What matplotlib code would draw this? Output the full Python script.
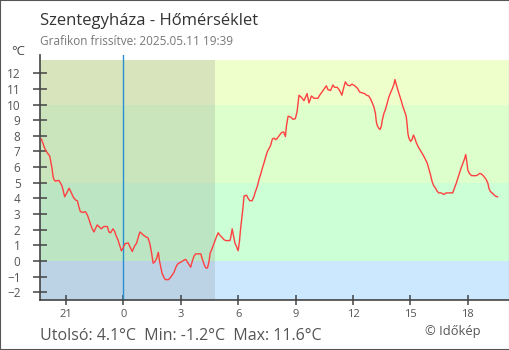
import matplotlib.pyplot as plt
from matplotlib.patches import Rectangle

plt.rcParams['font.family'] = ['Open Sans', 'DejaVu Sans']

# hours relative to midnight (negative = previous evening), temperature in °C
hours = [
    -4.28, -4.19, -4.07, -3.96, -3.84, -3.79, -3.72, -3.67, -3.62, -3.55,
    -3.37, -3.29, -3.20, -3.13, -3.06, -2.95, -2.83, -2.71, -2.62, -2.50,
    -2.40, -2.33, -2.24, -2.10, -1.98, -1.88, -1.79, -1.70, -1.62, -1.53,
    -1.46, -1.36, -1.27, -1.15, -1.02, -0.83, -0.75, -0.66, -0.54, -0.45,
    -0.37, -0.28, -0.19, -0.10, -0.02, 0.09, 0.26, 0.35, 0.47, 0.57,
    0.70, 0.78, 0.87, 0.96, 1.10, 1.25, 1.30, 1.39, 1.48, 1.56,
    1.65, 1.74, 1.83, 1.90, 1.97, 2.03, 2.14, 2.21, 2.35, 2.44,
    2.56, 2.66, 2.75, 2.84, 2.96, 3.05, 3.17, 3.26, 3.34, 3.44,
    3.52, 3.60, 3.69, 3.78, 4.00, 4.05, 4.12, 4.23, 4.31, 4.40,
    4.47, 4.54, 4.61, 4.69, 4.78, 4.87, 4.96, 5.04, 5.16, 5.27,
    5.36, 5.57, 5.62, 5.69, 5.76, 5.83, 5.92, 6.00, 6.07, 6.12,
    6.18, 6.24, 6.31, 6.44, 6.52, 6.61, 6.73, 6.82, 6.91, 7.01,
    7.09, 7.18, 7.27, 7.36, 7.44, 7.53, 7.62, 7.70, 7.79, 7.88,
    7.97, 8.05, 8.17, 8.26, 8.38, 8.47, 8.52, 8.61, 8.75, 8.87,
    8.99, 9.08, 9.13, 9.18, 9.31, 9.44, 9.60, 9.70, 9.83, 9.96,
    10.17, 10.26, 10.38, 10.52, 10.61, 10.69, 10.83, 10.95, 11.04, 11.18,
    11.30, 11.42, 11.51, 11.60, 11.71, 11.83, 11.95, 12.09, 12.23, 12.35,
    12.47, 12.61, 12.70, 12.82, 12.92, 13.01, 13.09, 13.17, 13.22, 13.27,
    13.34, 13.41, 13.48, 13.53, 13.62, 13.70, 13.79, 13.88, 13.96, 14.05,
    14.14, 14.19, 14.26, 14.35, 14.43, 14.52, 14.61, 14.70, 14.78, 14.83,
    14.87, 14.92, 15.01, 15.08, 15.16, 15.23, 15.31, 15.43, 15.53, 15.65,
    15.78, 15.88, 15.95, 16.05, 16.14, 16.22, 16.31, 16.40, 16.48, 16.61,
    16.74, 16.87, 17.21, 17.30, 17.39, 17.48, 17.56, 17.65, 17.73, 17.82,
    17.89, 17.94, 18.00, 18.08, 18.20, 18.43, 18.52, 18.62, 18.72, 18.84,
    18.96, 19.05, 19.10, 19.17, 19.31, 19.43, 19.55,
]
temps = [
    7.8, 7.5, 7.1, 6.9, 6.7, 6.35, 5.9, 5.4, 5.2, 5.1,
    5.15, 5.0, 4.8, 4.45, 4.1, 4.35, 4.65, 4.35, 4.1, 3.9,
    3.85, 3.5, 3.15, 3.1, 3.15, 2.95, 2.65, 2.3, 2.05, 1.85,
    2.05, 2.3, 2.2, 2.05, 2.2, 2.2, 1.85, 1.8, 2.05, 1.9,
    1.6, 1.35, 1.0, 0.65, 0.8, 1.1, 1.15, 0.9, 0.6, 0.9,
    1.15, 1.5, 1.85, 1.75, 1.6, 1.5, 1.45, 1.1, 0.5, -0.15,
    -0.05, 0.15, 0.55, -0.05, -0.45, -0.8, -1.1, -1.2, -1.2, -1.1,
    -0.9, -0.7, -0.4, -0.2, -0.1, -0.05, 0.05, 0.1, -0.05, -0.25,
    -0.4, -0.05, 0.3, 0.45, 0.45, 0.45, 0.15, -0.25, -0.45, -0.45,
    -0.1, 0.5, 0.7, 0.95, 1.25, 1.55, 1.8, 1.65, 1.5, 1.35,
    1.3, 1.3, 1.55, 2.05, 1.6, 1.15, 0.9, 0.65, 1.25, 1.95,
    2.6, 3.25, 4.15, 4.2, 4.0, 3.85, 3.85, 4.1, 4.45, 4.8,
    5.2, 5.55, 5.95, 6.3, 6.65, 7.0, 7.2, 7.4, 7.8, 7.85,
    7.75, 7.85, 8.05, 8.2, 8.25, 7.95, 8.6, 9.25, 9.2, 9.05,
    9.1, 9.55, 10.1, 10.6, 10.45, 10.25, 10.7, 10.1, 10.55, 10.4,
    10.4, 10.6, 10.8, 11.05, 11.2, 10.95, 10.9, 11.25, 11.1, 11.1,
    10.9, 10.6, 11.05, 11.45, 11.25, 11.2, 11.3, 11.2, 11.05, 10.8,
    10.75, 10.7, 10.6, 10.55, 10.35, 10.1, 9.85, 9.45, 8.9, 8.65,
    8.5, 8.4, 8.6, 9.0, 9.45, 9.7, 10.1, 10.5, 10.75, 11.0,
    11.3, 11.6, 11.3, 10.9, 10.6, 10.25, 9.85, 9.55, 9.25, 8.7,
    8.15, 7.85, 7.65, 7.75, 8.05, 7.85, 7.55, 7.25, 7.05, 6.8,
    6.5, 6.25, 5.95, 5.5, 5.05, 4.8, 4.65, 4.45, 4.35, 4.35,
    4.25, 4.35, 4.35, 4.65, 4.95, 5.3, 5.6, 5.95, 6.2, 6.5,
    6.8, 6.4, 5.8, 5.6, 5.45, 5.45, 5.5, 5.6, 5.55, 5.4,
    5.2, 4.95, 4.65, 4.45, 4.3, 4.15, 4.1,
]

# temperature bands and their colours
band_edges = [-2.5, 0, 5, 10, 12.85]
band_colors = ['#cce8ff', '#ccffd6', '#ddffcc', '#eeffcc']
night_end = 4.78
x_ticks = [-3, 0, 3, 6, 9, 12, 15, 18]
y_ticks = list(range(-2, 13))

fig = plt.figure(figsize=(5.1, 3.5), dpi=100)
ax = fig.add_axes([40 / 510, 50 / 350, 469 / 510, 245.5 / 350])

xmin, xmax = -4.35, 20.15
for lo, hi, c in zip(band_edges[:-1], band_edges[1:], band_colors):
    ax.fill_between([xmin, xmax], lo, hi, color=c, lw=0, zorder=0)
ax.fill_between([xmin, night_end], band_edges[0], band_edges[-1],
                color='#808080', alpha=0.2, lw=0, zorder=1)
ax.axvline(0, color='#2a8fd0', lw=1.0, zorder=2)

ax.plot(hours, temps, color='#ff4040', lw=1.0, zorder=3)

ax.set_xlim(xmin, xmax)
ax.set_ylim(-2.5, 13.2)
ax.set_xticks(x_ticks)
ax.set_xticklabels([str(h % 24) for h in x_ticks])
ax.set_yticks(y_ticks)

for s in ['top', 'right']:
    ax.spines[s].set_visible(False)
for s in ['left', 'bottom']:
    ax.spines[s].set_color('#444444')
    ax.spines[s].set_linewidth(1.2)

ax.tick_params(axis='y', direction='inout', length=10, width=1.1,
               color='#444444', labelsize=8.5, labelcolor='#555555', pad=9)
ax.tick_params(axis='x', direction='inout', length=7, width=1.1,
               color='#444444', labelsize=8, labelcolor='#555555', pad=3)

fig.text(40 / 510, 1 - 25 / 350, 'Szentegyháza - Hőmérséklet',
         fontsize=12, color='#333333', va='baseline')
fig.text(40 / 510, 1 - 45 / 350, 'Grafikon frissítve: 2025.05.11 19:39',
         fontsize=8.5, color='#777777', va='baseline')
fig.text(11 / 510, 1 - 55 / 350, '°C', fontsize=9.5, color='#444444', va='baseline')
fig.text(40 / 510, 1 - 340 / 350, 'Utolsó: 4.1°C  Min: -1.2°C  Max: 11.6°C',
         fontsize=11.5, color='#555555', va='baseline')
fig.text(425 / 510, 1 - 335 / 350, '© Időkép', fontsize=9.3,
         color='#555555', va='baseline')

fig.patches.append(Rectangle((0, 0), 1, 1, transform=fig.transFigure,
                             fill=False, edgecolor='#555555', lw=1.5))

fig.savefig('out.png', dpi=100)
